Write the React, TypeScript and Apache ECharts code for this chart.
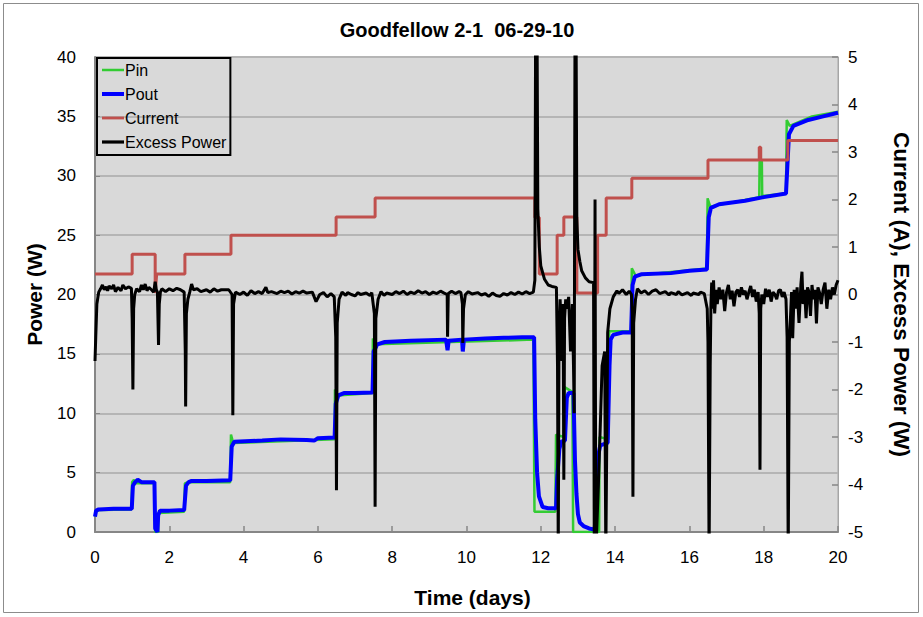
import React, { useEffect, useRef } from "react";
import * as echarts from "echarts";

const titleText = "Goodfellow 2-1  06-29-10";
const xTitle = "Time (days)";
const leftTitle = "Power (W)";
const rightTitle = "Current (A), Excess Power (W)";
const seriesNames = ["Pin", "Pout", "Current", "Excess Power"];

const pinData: [number, number][] = [
  [0, 1.3], [0.03, 1.7], [0.1, 1.85], [0.98, 1.9], [1.0, 4.2], [1.05, 4.4], [1.1, 4.1], [1.6, 4.1],
  [1.62, 0], [1.7, 0], [1.71, 1.6], [2.4, 1.7], [2.42, 4.1], [2.5, 4.2], [3.64, 4.2], [3.66, 8.2],
  [3.72, 7.5], [6.45, 7.8], [6.46, 12.0], [6.52, 11.5], [7.47, 11.7], [7.48, 16.3], [7.55, 15.8],
  [11.8, 16.2], [11.83, 1.7], [12.39, 1.7], [12.41, 8.2], [12.62, 8.0], [12.64, 12.2], [12.85, 11.8],
  [12.87, 0], [13.57, 0], [13.58, 8.0], [13.82, 7.8], [13.84, 16.9], [14.43, 16.9], [14.45, 22.2],
  [14.55, 21.6], [16.47, 22.2], [16.49, 28.1], [16.56, 27.4], [17.88, 28.2], [17.89, 31.2], [17.95, 31.2],
  [17.96, 28.3], [18.6, 28.5], [18.62, 34.7], [18.7, 34.2], [19.3, 35.0], [20, 35.4],
];

const poutData: [number, number][] = [
  [0, 1.3], [0.03, 1.8], [0.1, 1.9], [0.5, 1.95], [0.99, 1.95], [1.02, 3.9], [1.08, 4.2], [1.15, 4.4],
  [1.25, 4.2], [1.6, 4.2], [1.62, 0.3], [1.68, 0], [1.7, 1.4], [1.75, 1.8], [2.0, 1.8], [2.4, 1.85],
  [2.45, 3.9], [2.52, 4.2], [2.6, 4.3], [3.0, 4.3], [3.64, 4.35], [3.68, 7.2], [3.75, 7.6], [4.5, 7.7],
  [5.0, 7.8], [5.7, 7.75], [5.9, 7.7], [6.0, 7.9], [6.45, 7.95], [6.48, 10.8], [6.55, 11.5], [6.7, 11.7],
  [7.0, 11.7], [7.47, 11.75], [7.5, 15.2], [7.6, 15.8], [7.8, 16.0], [8.5, 16.1], [9.45, 16.2],
  [9.49, 15.3], [9.52, 16.1], [9.88, 16.2], [9.9, 15.2], [9.93, 16.2], [10.5, 16.3], [11.0, 16.35],
  [11.5, 16.4], [11.82, 16.4], [11.85, 9.5], [11.9, 5.0], [11.95, 3.0], [12.05, 2.1], [12.2, 2.0],
  [12.41, 2.0], [12.44, 4.5], [12.5, 7.0], [12.55, 7.6], [12.65, 7.7], [12.7, 11.3], [12.75, 11.7],
  [12.88, 11.7], [12.92, 6.0], [12.96, 3.2], [13.0, 1.5], [13.05, 0.8], [13.15, 0.5], [13.3, 0.3],
  [13.45, 0.2], [13.5, 2.5], [13.55, 6.5], [13.6, 7.3], [13.8, 7.5], [13.85, 14.0], [13.88, 16.2],
  [13.95, 16.6], [14.2, 16.8], [14.43, 16.8], [14.47, 20.8], [14.53, 21.5], [14.7, 21.7], [15.5, 21.8],
  [16.0, 22.0], [16.47, 22.1], [16.52, 26.5], [16.58, 27.3], [16.8, 27.6], [17.5, 27.9], [18.0, 28.2],
  [18.6, 28.5], [18.64, 31.0], [18.68, 33.5], [18.8, 34.2], [19.2, 34.7], [19.6, 35.0], [20, 35.3],
];

const currentData: [number, number][] = [
  [0, 0.43], [1.0, 0.43], [1.0, 0.85], [1.62, 0.85], [1.62, 0.03], [1.66, 0.43], [2.42, 0.43],
  [2.42, 0.85], [3.66, 0.85], [3.66, 1.25], [6.49, 1.25], [6.49, 1.63], [7.54, 1.63], [7.54, 2.03],
  [11.84, 2.03], [11.84, 1.62], [11.96, 1.62], [11.96, 0.43], [12.44, 0.43], [12.44, 1.25],
  [12.62, 1.25], [12.62, 1.63], [12.97, 1.63], [12.97, 0.03], [13.53, 0.03], [13.53, 1.25],
  [13.76, 1.25], [13.76, 2.03], [14.45, 2.03], [14.45, 2.45], [16.5, 2.45], [16.5, 2.83],
  [17.88, 2.83], [17.88, 3.1], [17.92, 3.1], [17.92, 2.83], [18.65, 2.83], [18.65, 3.24], [20, 3.24],
];

const excessData: [number, number][] = [
  [0, -1.4], [0.02, -0.9], [0.05, -0.2], [0.1, 0.05], [0.15, 0.12], [0.2, 0.2], [0.25, 0.1], [0.3, 0.16],
  [0.34, 0.08], [0.38, 0.18], [0.45, 0.12], [0.5, 0.2], [0.55, 0.06], [0.62, 0.15], [0.7, 0.08], [0.75, 0.2],
  [0.82, 0.12], [0.9, 0.16], [0.98, 0.13], [1.0, -0.5], [1.02, -2.0], [1.04, -0.3], [1.07, 0.0],
  [1.12, 0.12], [1.2, 0.06], [1.25, 0.2], [1.3, 0.1], [1.35, 0.22], [1.4, 0.08], [1.45, 0.15],
  [1.52, 0.1], [1.58, 0.05], [1.62, 0.27], [1.65, 0.1], [1.68, 0.05], [1.71, -1.06], [1.73, -0.2],
  [1.76, 0.05], [1.8, 0.12], [1.9, 0.06], [2.0, 0.12], [2.1, 0.08], [2.2, 0.13], [2.3, 0.1], [2.4, 0.05],
  [2.43, -1.2], [2.44, -2.36], [2.46, -0.4], [2.5, -0.1], [2.55, 0.05], [2.6, 0.22], [2.65, 0.1],
  [2.75, 0.12], [2.85, 0.06], [3.0, 0.1], [3.1, 0.05], [3.2, 0.12], [3.3, 0.07], [3.4, 0.1], [3.6, 0.1], [3.69, 0.0],
  [3.71, -2.54], [3.73, -0.2], [3.78, 0.05], [3.9, 0.0], [4.0, 0.05], [4.1, -0.02], [4.2, 0.08], [4.3, 0.02],
  [4.4, 0.06], [4.5, 0.02], [4.6, 0.15], [4.65, 0.04], [4.75, 0.06], [4.9, 0.02], [5.0, 0.07], [5.1, 0.04], [5.2, 0.07],
  [5.3, 0.01], [5.4, 0.06], [5.5, 0.03], [5.6, 0.07], [5.7, 0.03], [5.85, 0.05], [5.95, -0.15], [6.05, 0.0], [6.15, 0.04], [6.25, -0.05], [6.35, 0.02],
  [6.44, -0.05], [6.48, -0.9], [6.5, -4.12], [6.52, -0.6], [6.57, -0.1], [6.65, 0.05], [6.75, -0.02],
  [6.8, 0.04], [6.9, 0.0], [7.0, -0.03], [7.08, 0.04], [7.15, 0.0], [7.3, 0.03], [7.4, -0.02], [7.45, 0.04], [7.52, -0.4], [7.54, -4.47],
  [7.56, -0.5], [7.62, -0.1], [7.7, 0.06], [7.78, -0.02], [7.85, 0.03], [8.0, 0.0], [8.1, 0.06], [8.2, 0.02], [8.3, 0.07], [8.4, 0.0],
  [8.5, 0.05], [8.6, 0.02], [8.7, 0.08], [8.8, 0.03], [8.9, 0.06], [9.0, 0.0], [9.1, 0.05], [9.2, 0.02], [9.3, 0.07], [9.4, 0.03], [9.48, 0.0], [9.49, -0.89],
  [9.51, 0.02], [9.6, 0.07], [9.7, 0.02], [9.8, 0.06], [9.85, 0.04], [9.89, -0.2], [9.9, -1.02], [9.92, -0.3], [9.97, 0.0],
  [10.05, 0.06], [10.15, 0.01], [10.3, 0.04], [10.4, -0.01], [10.5, 0.02], [10.6, -0.04], [10.7, 0.03], [10.8, -0.02], [10.9, -0.04], [11.0, 0.02], [11.1, -0.01], [11.2, 0.04],
  [11.3, 0.0], [11.4, 0.05], [11.5, 0.01], [11.6, 0.06], [11.7, 0.02], [11.8, 0.05], [11.84, 0.3], [11.86, 5.5], [11.9, 5.5], [11.92, 1.8],
  [11.96, 1.0], [12.0, 0.6], [12.1, 0.32], [12.2, 0.2], [12.3, 0.17], [12.42, 0.15], [12.45, -1.5],
  [12.47, -5.5], [12.49, -0.9], [12.52, -0.1], [12.55, -0.7], [12.57, -1.4], [12.6, -0.2],
  [12.62, -3.9], [12.64, -0.5], [12.67, -0.1], [12.7, -0.3], [12.75, -0.05], [12.8, -1.2],
  [12.85, -0.2], [12.88, -1.5], [12.9, -2.5], [12.92, 5.5], [12.95, 5.5], [12.97, 1.6], [13.0, 0.95],
  [13.05, 0.7], [13.1, 0.5], [13.2, 0.35], [13.3, 0.27], [13.42, 0.25], [13.44, -5.5], [13.46, 2.0],
  [13.48, -5.5], [13.55, -4.0], [13.6, -2.8], [13.65, -1.5], [13.72, -1.2], [13.75, -5.5],
  [13.8, -0.8], [13.86, -0.3], [13.95, -0.05], [14.05, 0.08], [14.1, 0.02], [14.2, 0.1], [14.3, 0.0], [14.38, 0.07], [14.44, 0.0],
  [14.46, -0.4], [14.48, -4.26], [14.5, -0.6], [14.55, -0.1], [14.6, 0.12], [14.7, 0.03], [14.8, 0.08],
  [14.9, 0.0], [15.0, 0.07], [15.1, 0.1], [15.2, 0.02], [15.35, 0.06], [15.45, -0.01], [15.5, 0.04], [15.65, 0.0], [15.7, 0.06],
  [15.8, -0.01], [15.95, 0.04], [16.05, -0.02], [16.1, 0.03], [16.25, 0.0], [16.3, 0.05], [16.4, 0.02], [16.48, -0.3], [16.5, -1.0],
  [16.53, -5.5], [16.56, -1.5], [16.58, -0.2], [16.6, 0.25], [16.62, -0.3], [16.65, 0.3], [16.68, -0.4],
  [16.72, 0.1], [16.75, -0.2], [16.8, 0.15], [16.85, -0.1], [16.9, 0.1], [16.95, -0.35], [17.0, 0.05],
  [17.05, 0.2], [17.1, -0.1], [17.15, 0.08], [17.2, -0.25], [17.25, 0.05], [17.3, 0.1], [17.35, -0.05],
  [17.4, 0.15], [17.45, 0.0], [17.5, 0.08], [17.55, -0.1], [17.6, 0.05], [17.65, 0.18], [17.7, -0.05],
  [17.75, 0.1], [17.8, -0.15], [17.85, 0.05], [17.88, -0.4], [17.9, -3.69], [17.92, -0.3], [17.95, 0.0],
  [18.0, -0.2], [18.05, 0.12], [18.1, -0.05], [18.15, 0.1], [18.2, -0.15], [18.25, 0.05], [18.3, 0.0],
  [18.35, -0.1], [18.4, 0.08], [18.45, 0.1], [18.5, -0.05], [18.55, 0.05], [18.6, -0.1], [18.63, -0.9],
  [18.66, -5.5], [18.69, -1.0], [18.72, -0.5], [18.75, 0.05], [18.78, -0.92], [18.82, 0.1], [18.86, -0.3],
  [18.9, 0.15], [18.95, -0.6], [19.0, 0.2], [19.03, 0.48], [19.06, -0.2], [19.1, 0.1], [19.14, -0.5],
  [19.18, 0.15], [19.22, 0.05], [19.26, -0.45], [19.3, 0.2], [19.34, -0.1], [19.38, 0.1], [19.42, -0.61],
  [19.46, 0.15], [19.5, 0.05], [19.55, -0.2], [19.6, 0.1], [19.65, 0.25], [19.7, -0.3], [19.75, 0.1],
  [19.8, -0.1], [19.85, 0.15], [19.9, 0.0], [19.95, 0.2], [20, 0.3],
];

const FONT = "'Liberation Sans', Arial, sans-serif";

export default function App() {
  const ref = useRef<HTMLDivElement>(null);
  useEffect(() => {
    if (!ref.current) return;
    const chart = echarts.init(ref.current, null, { renderer: "svg" });
    const axisLabel = { color: "#000", fontSize: 17, fontFamily: FONT };
    const nameStyle = { color: "#000", fontSize: 21, fontWeight: "bold" as const, fontFamily: FONT };
    chart.setOption({
      animation: false,
      backgroundColor: "#fff",
      title: {
        text: titleText,
        left: 452,
        top: 15,
        textAlign: "center",
        textStyle: { fontSize: 20, fontWeight: "bold", color: "#000", fontFamily: FONT },
      },
      legend: {
        data: [
          { name: seriesNames[0], icon: "path://M0,0H22V2.5H0Z" },
          { name: seriesNames[1], icon: "path://M0,0H22V4H0Z" },
          { name: seriesNames[2], icon: "path://M0,0H22V2.8H0Z" },
          { name: seriesNames[3], icon: "path://M0,0H22V3.2H0Z" },
        ],
        orient: "vertical",
        left: 97,
        top: 58,
        padding: [4, 4, 5, 5],
        itemGap: 8,
        itemWidth: 22,
        itemHeight: 14,
        borderColor: "#000",
        borderWidth: 2,
        backgroundColor: "transparent",
        textStyle: { fontSize: 16, color: "#000", fontFamily: FONT, padding: [0, 0, 0, -4] },
      },
      graphic: [
        {
          type: "rect",
          shape: { x: 3.5, y: 3.5, width: 915, height: 609 },
          style: { fill: "none", stroke: "#8c8c8c", lineWidth: 1 },
          silent: true,
        },
      ],
      grid: {
        left: 95,
        right: 85,
        top: 57,
        bottom: 85,
        show: true,
        backgroundColor: "#d9d9d9",
        borderColor: "#a6a6a6",
        borderWidth: 1,
      },
      xAxis: {
        type: "value",
        min: 0,
        max: 20,
        interval: 2,
        name: xTitle,
        nameLocation: "middle",
        nameGap: 55,
        nameTextStyle: { ...nameStyle, padding: [0, 0, 0, 12] },
        axisLine: { onZero: false, lineStyle: { color: "#868686", width: 2 } },
        axisTick: { inside: true, length: 6, lineStyle: { color: "#868686", width: 1.5 } },
        axisLabel: { ...axisLabel, margin: 17 },
        splitLine: { show: false },
      },
      yAxis: [
        {
          type: "value",
          min: 0,
          max: 40,
          interval: 5,
          name: leftTitle,
          nameLocation: "middle",
          nameGap: 50,
          nameRotate: 90,
          nameTextStyle: nameStyle,
          axisLine: { show: true, lineStyle: { color: "#868686", width: 2 } },
          axisTick: { show: true, inside: true, length: 5, lineStyle: { color: "#868686" } },
          axisLabel: { ...axisLabel, margin: 19 },
          splitLine: { show: true, lineStyle: { color: "#b5b5b5", width: 2 } },
        },
        {
          type: "value",
          min: -5,
          max: 5,
          interval: 1,
          position: "right",
          name: rightTitle,
          nameLocation: "middle",
          nameGap: 52,
          nameRotate: -90,
          nameTextStyle: { ...nameStyle, fontSize: 22.5 },
          axisLine: { show: true, lineStyle: { color: "#a6a6a6", width: 1 } },
          axisTick: { show: true, inside: true, length: 6, lineStyle: { color: "#868686", width: 1.5 } },
          axisLabel: { ...axisLabel, margin: 10 },
          splitLine: { show: false },
        },
      ],
      series: [
        {
          name: seriesNames[0],
          type: "line",
          yAxisIndex: 0,
          data: pinData,
          symbol: "none",
          color: "#33cc33",
          lineStyle: { color: "#33cc33", width: 2.5 },
          clip: true,
        },
        {
          name: seriesNames[1],
          type: "line",
          yAxisIndex: 0,
          data: poutData,
          symbol: "none",
          color: "#0000ff",
          lineStyle: { color: "#0000ff", width: 4 },
          clip: true,
        },
        {
          name: seriesNames[2],
          type: "line",
          yAxisIndex: 1,
          data: currentData,
          symbol: "none",
          color: "#c0504d",
          lineStyle: { color: "#c0504d", width: 3 },
          clip: true,
        },
        {
          name: seriesNames[3],
          type: "line",
          yAxisIndex: 1,
          data: excessData,
          symbol: "none",
          color: "#000",
          lineStyle: { color: "#000", width: 3 },
          clip: true,
        },
      ],
    });
    return () => chart.dispose();
  }, []);
  return (
    <div
      ref={ref}
      style={{ position: "fixed", left: 0, top: 0, width: 923, height: 617, background: "#fff" }}
    />
  );
}
